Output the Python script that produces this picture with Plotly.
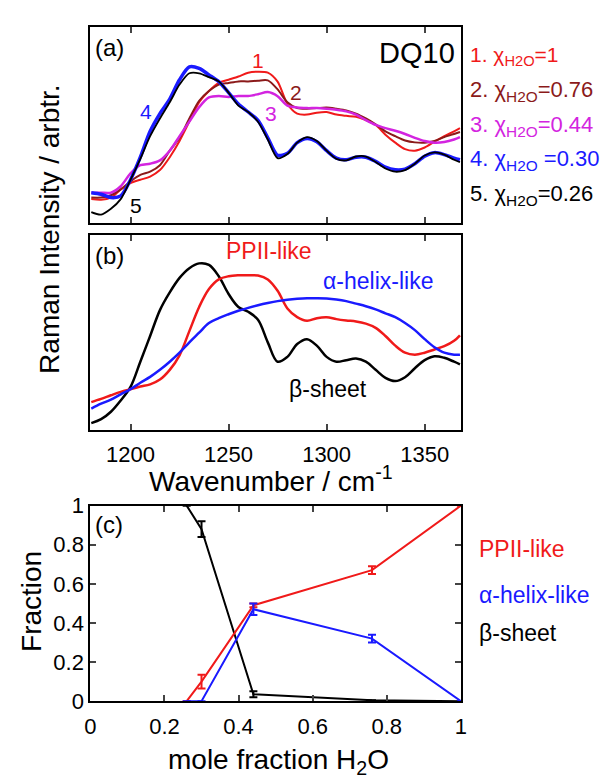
import plotly.graph_objects as go

W, H = 615, 779

# ---------------- data ----------------
wavenumber = [1180, 1185, 1190, 1195, 1200, 1205, 1210, 1215, 1220, 1225, 1230, 1235, 1240,
              1245, 1250, 1255, 1260, 1265, 1270, 1275, 1280, 1285, 1290, 1295, 1300, 1305,
              1310, 1315, 1320, 1325, 1330, 1335, 1340, 1345, 1350, 1355, 1360, 1365, 1368]

# panel (a) spectra (arbitrary units)
spec_x100 = [24.7, 24, 26.3, 34.7, 41.3, 44.7, 48, 54.7, 68, 84.7, 104.7, 124.7, 136.3,
             144.7, 148, 151.3, 155.3, 156.3, 155.3, 146, 123, 113, 112, 114, 114.7, 112,
             110.7, 109.7, 106.3, 101.3, 91.3, 83, 76.3, 74.7, 78, 84, 89.7, 94.7, 98]
spec_x076 = [26.3, 26.3, 28.7, 34.7, 43, 49.7, 53, 59.7, 74.7, 88, 108, 126.3, 136.3,
             143, 144.7, 146.3, 146.3, 147, 147.3, 138, 124.7, 118.7, 118, 118.7, 119.3, 118,
             116.3, 113, 108, 102, 94.7, 89.7, 85.3, 83.3, 83, 84.7, 88.7, 92, 94]
spec_x044 = [31.3, 31.3, 31.3, 38, 51.3, 59.7, 61.3, 64.7, 74.7, 89.7, 104.7, 119.7, 129.7,
             131.3, 130.3, 131.3, 131.3, 133, 135.3, 131, 121.3, 119.3, 118.7, 118.7, 118, 117,
             115.3, 112, 106.3, 101.3, 98, 95.3, 92, 88, 84.7, 83, 83.7, 86.3, 88.7]
spec_x030 = [31.3, 29.7, 26.3, 28, 44.7, 68, 94.7, 113, 128, 148, 161.3, 159.7, 153,
             146, 134.7, 123, 114.7, 106, 88, 70, 72, 83, 87.3, 84, 74.7, 67,
             65.3, 68, 68, 63.7, 57.7, 55, 55.7, 61.3, 69, 72.7, 70.7, 67, 65.3]
spec_x026 = [11.3, 8.7, 14.7, 24.7, 44.7, 66.3, 89.7, 108, 124.7, 143, 154.7, 154.7, 150.7,
             146.3, 134.7, 121.3, 114.7, 104.7, 86.3, 67, 71.3, 83, 88.7, 84.7, 74.7, 66.3,
             64.7, 68.7, 68.7, 63, 56.3, 53, 54.7, 61.3, 69.7, 73, 70.7, 65.3, 63]

# panel (b) basis spectra
basis_beta = [7.3, 11.3, 19, 30.7, 44.7, 70.7, 97.3, 124, 142.3, 157.3, 167.3, 172.3, 170.7,
              159, 140.7, 127.3, 122.3, 114, 90.7, 70.7, 75.7, 89, 94, 87.3, 75.7, 70.7,
              72.3, 74, 70.7, 62.3, 54, 50.7, 54.7, 64, 72.3, 76.3, 74.7, 70.7, 68]
basis_ppii = [29, 32.3, 36, 39.5, 42.3, 45, 47.3, 52.3, 62.3, 77.3, 102.3, 127.3, 145.7,
              155.7, 159, 160, 160, 159.7, 155.7, 144, 125.7, 116.7, 113, 115.7, 116.7, 114.7,
              113.3, 112.3, 110, 105.7, 97.3, 87.3, 80, 78, 80, 83.3, 86.7, 92.3, 98]
basis_alpha = [22.3, 27.3, 31.5, 37, 42.3, 49, 55, 62.3, 70.7, 80, 90.7, 100.7, 110.7,
               115.7, 119.7, 123.3, 126.3, 129, 131.3, 133.3, 134.7, 135.7, 136.3, 136.3, 136, 135,
               133.3, 130.7, 128, 124.7, 120.7, 116.7, 110.7, 103.3, 94, 85.7, 80, 78, 78]

# panel (c) fractions
mole_fraction = [0.26, 0.30, 0.44, 0.76, 1.0]
frac_ppii = [0.0, 0.10, 0.49, 0.67, 1.0]
frac_ppii_err = [0, 0.035, 0.01, 0.02, 0]
frac_alpha = [0.0, 0.0, 0.47, 0.32, 0.0]
frac_alpha_err = [0, 0, 0.03, 0.02, 0]
frac_beta = [1.0, 0.88, 0.035, 0.005, 0.0]
frac_beta_err = [0, 0.04, 0.015, 0, 0]

tick_wn = [1200, 1250, 1300, 1350]
tick_frac = [0, 0.2, 0.4, 0.6, 0.8, 1]
tick_frac_text = ["0", "0.2", "0.4", "0.6", "0.8", "1"]

RED = "#f01a1a"
DRED = "#8b1a1a"
MAG = "#d324e0"
BLUE = "#1a1aff"
BLACK = "#000000"
FONT = "Liberation Sans, Arial, sans-serif"


def X(px):
    return px / W


def Y(py):
    return 1 - py / H


fig = go.Figure()

# panel (a)
for ys, col, w in [(spec_x100, RED, 2), (spec_x076, DRED, 2), (spec_x044, MAG, 2.5),
                   (spec_x030, BLUE, 3.5), (spec_x026, BLACK, 1.8)]:
    fig.add_trace(go.Scatter(x=wavenumber, y=ys, mode="lines", xaxis="x", yaxis="y",
                             line=dict(color=col, width=w, shape="spline", smoothing=0.8),
                             showlegend=False, hoverinfo="skip"))

# panel (b)
for ys, col in [(basis_beta, BLACK), (basis_ppii, RED), (basis_alpha, BLUE)]:
    fig.add_trace(go.Scatter(x=wavenumber, y=ys, mode="lines", xaxis="x2", yaxis="y2",
                             line=dict(color=col, width=2.5, shape="spline", smoothing=1.0),
                             showlegend=False, hoverinfo="skip"))

# panel (c)
for ys, err, col in [(frac_beta, frac_beta_err, BLACK), (frac_ppii, frac_ppii_err, RED),
                     (frac_alpha, frac_alpha_err, BLUE)]:
    fig.add_trace(go.Scatter(x=mole_fraction, y=ys, mode="lines", xaxis="x3", yaxis="y3",
                             line=dict(color=col, width=2),
                             error_y=dict(type="data", array=err, color=col, thickness=2, width=4,
                                          visible=True),
                             showlegend=False, hoverinfo="skip"))

xdom = [X(86), X(464)]
axis_common = dict(showline=True, linecolor="black", linewidth=2, mirror=True,
                   showgrid=False, zeroline=False)

fig.update_layout(
    width=W, height=H,
    margin=dict(l=0, r=0, t=0, b=0),
    paper_bgcolor="white", plot_bgcolor="white",
    font=dict(family=FONT, size=22, color="black"),
    xaxis=dict(domain=xdom, anchor="y", range=[1179.5, 1368.5], tickvals=tick_wn,
               ticks="inside", ticklen=6, tickwidth=1.5, showticklabels=False,
               **{**axis_common, "mirror": "ticks"}),
    yaxis=dict(domain=[Y(218), Y(15)], anchor="x", range=[0, 203], showticklabels=False,
               ticks="", **axis_common),
    xaxis2=dict(domain=xdom, anchor="y2", range=[1179.5, 1368.5], tickvals=tick_wn,
                ticktext=[str(t) for t in tick_wn], ticklabelstandoff=3,
                ticks="inside", ticklen=6, tickwidth=1.5, tickfont=dict(size=22),
                **{**axis_common, "mirror": "ticks"}),
    yaxis2=dict(domain=[Y(432), Y(230)], anchor="x2", range=[0, 202], showticklabels=False,
                ticks="", **axis_common),
    xaxis3=dict(domain=xdom, anchor="y3", range=[0, 1], tickvals=tick_frac, ticktext=tick_frac_text,
                ticks="inside", ticklen=6, tickwidth=1.5, tickfont=dict(size=22),
                ticklabelstandoff=4, **{**axis_common, "mirror": "ticks"}),
    yaxis3=dict(domain=[Y(712), Y(510)], anchor="x3", range=[0, 1], tickvals=tick_frac,
                ticktext=tick_frac_text, ticks="inside", ticklen=6, tickwidth=1.5,
                tickfont=dict(size=22), **{**axis_common, "mirror": "ticks"}),
)

ann = []


def A(text, px, py, size=22, color="black", xanchor="center", angle=0):
    ann.append(dict(text=text, x=X(px), y=Y(py), xref="paper", yref="paper", showarrow=False,
                    xanchor=xanchor, yanchor="middle", textangle=angle,
                    font=dict(size=size, color=color, family=FONT)))


# panel (a) labels
A("(a)", 89, 37, 24, xanchor="left")
A("DQ10", 460, 42, 29, xanchor="right")
A("1", 257, 50, 21, RED)
A("2", 296, 83, 21, DRED)
A("3", 270, 105, 21, MAG)
A("4", 143, 103, 21, BLUE)
A("5", 133, 200, 21, BLACK)
A("1. χ<sub>H2O</sub>=1", 471, 45, 21, RED, "left")
A("2. χ<sub>H2O</sub>=0.76", 471, 82, 22, DRED, "left")
A("3. χ<sub>H2O</sub>=0.44", 471, 118, 22, MAG, "left")
A("4. χ<sub>H2O</sub> =0.30", 471, 153, 22, BLUE, "left")
A("5. χ<sub>H2O</sub>=0.26", 471, 189, 22, BLACK, "left")

# panel (b) labels
A("(b)", 89, 252, 24, xanchor="left")
A("PPII-like", 222, 247, 23, RED, "left")
A("α-helix-like", 321, 278, 23, BLUE, "left")
A("β-sheet", 287, 390, 23, BLACK, "left")
A("Wavenumber / cm<sup>-1</sup>", 270, 482, 28)
A("Raman Intensity / arbtr.", 45, 225, 28, angle=-90)

# panel (c) labels
A("(c)", 89, 530, 24, xanchor="left")
A("PPII-like", 480, 555, 23, RED, "left")
A("α-helix-like", 480, 602, 23, BLUE, "left")
A("β-sheet", 480, 642, 23, BLACK, "left")
A("Fraction", 26, 609, 28, angle=-90)
A("mole fraction H<sub>2</sub>O", 278, 774, 28)

fig.update_layout(annotations=ann)
fig.write_html("out.html")
